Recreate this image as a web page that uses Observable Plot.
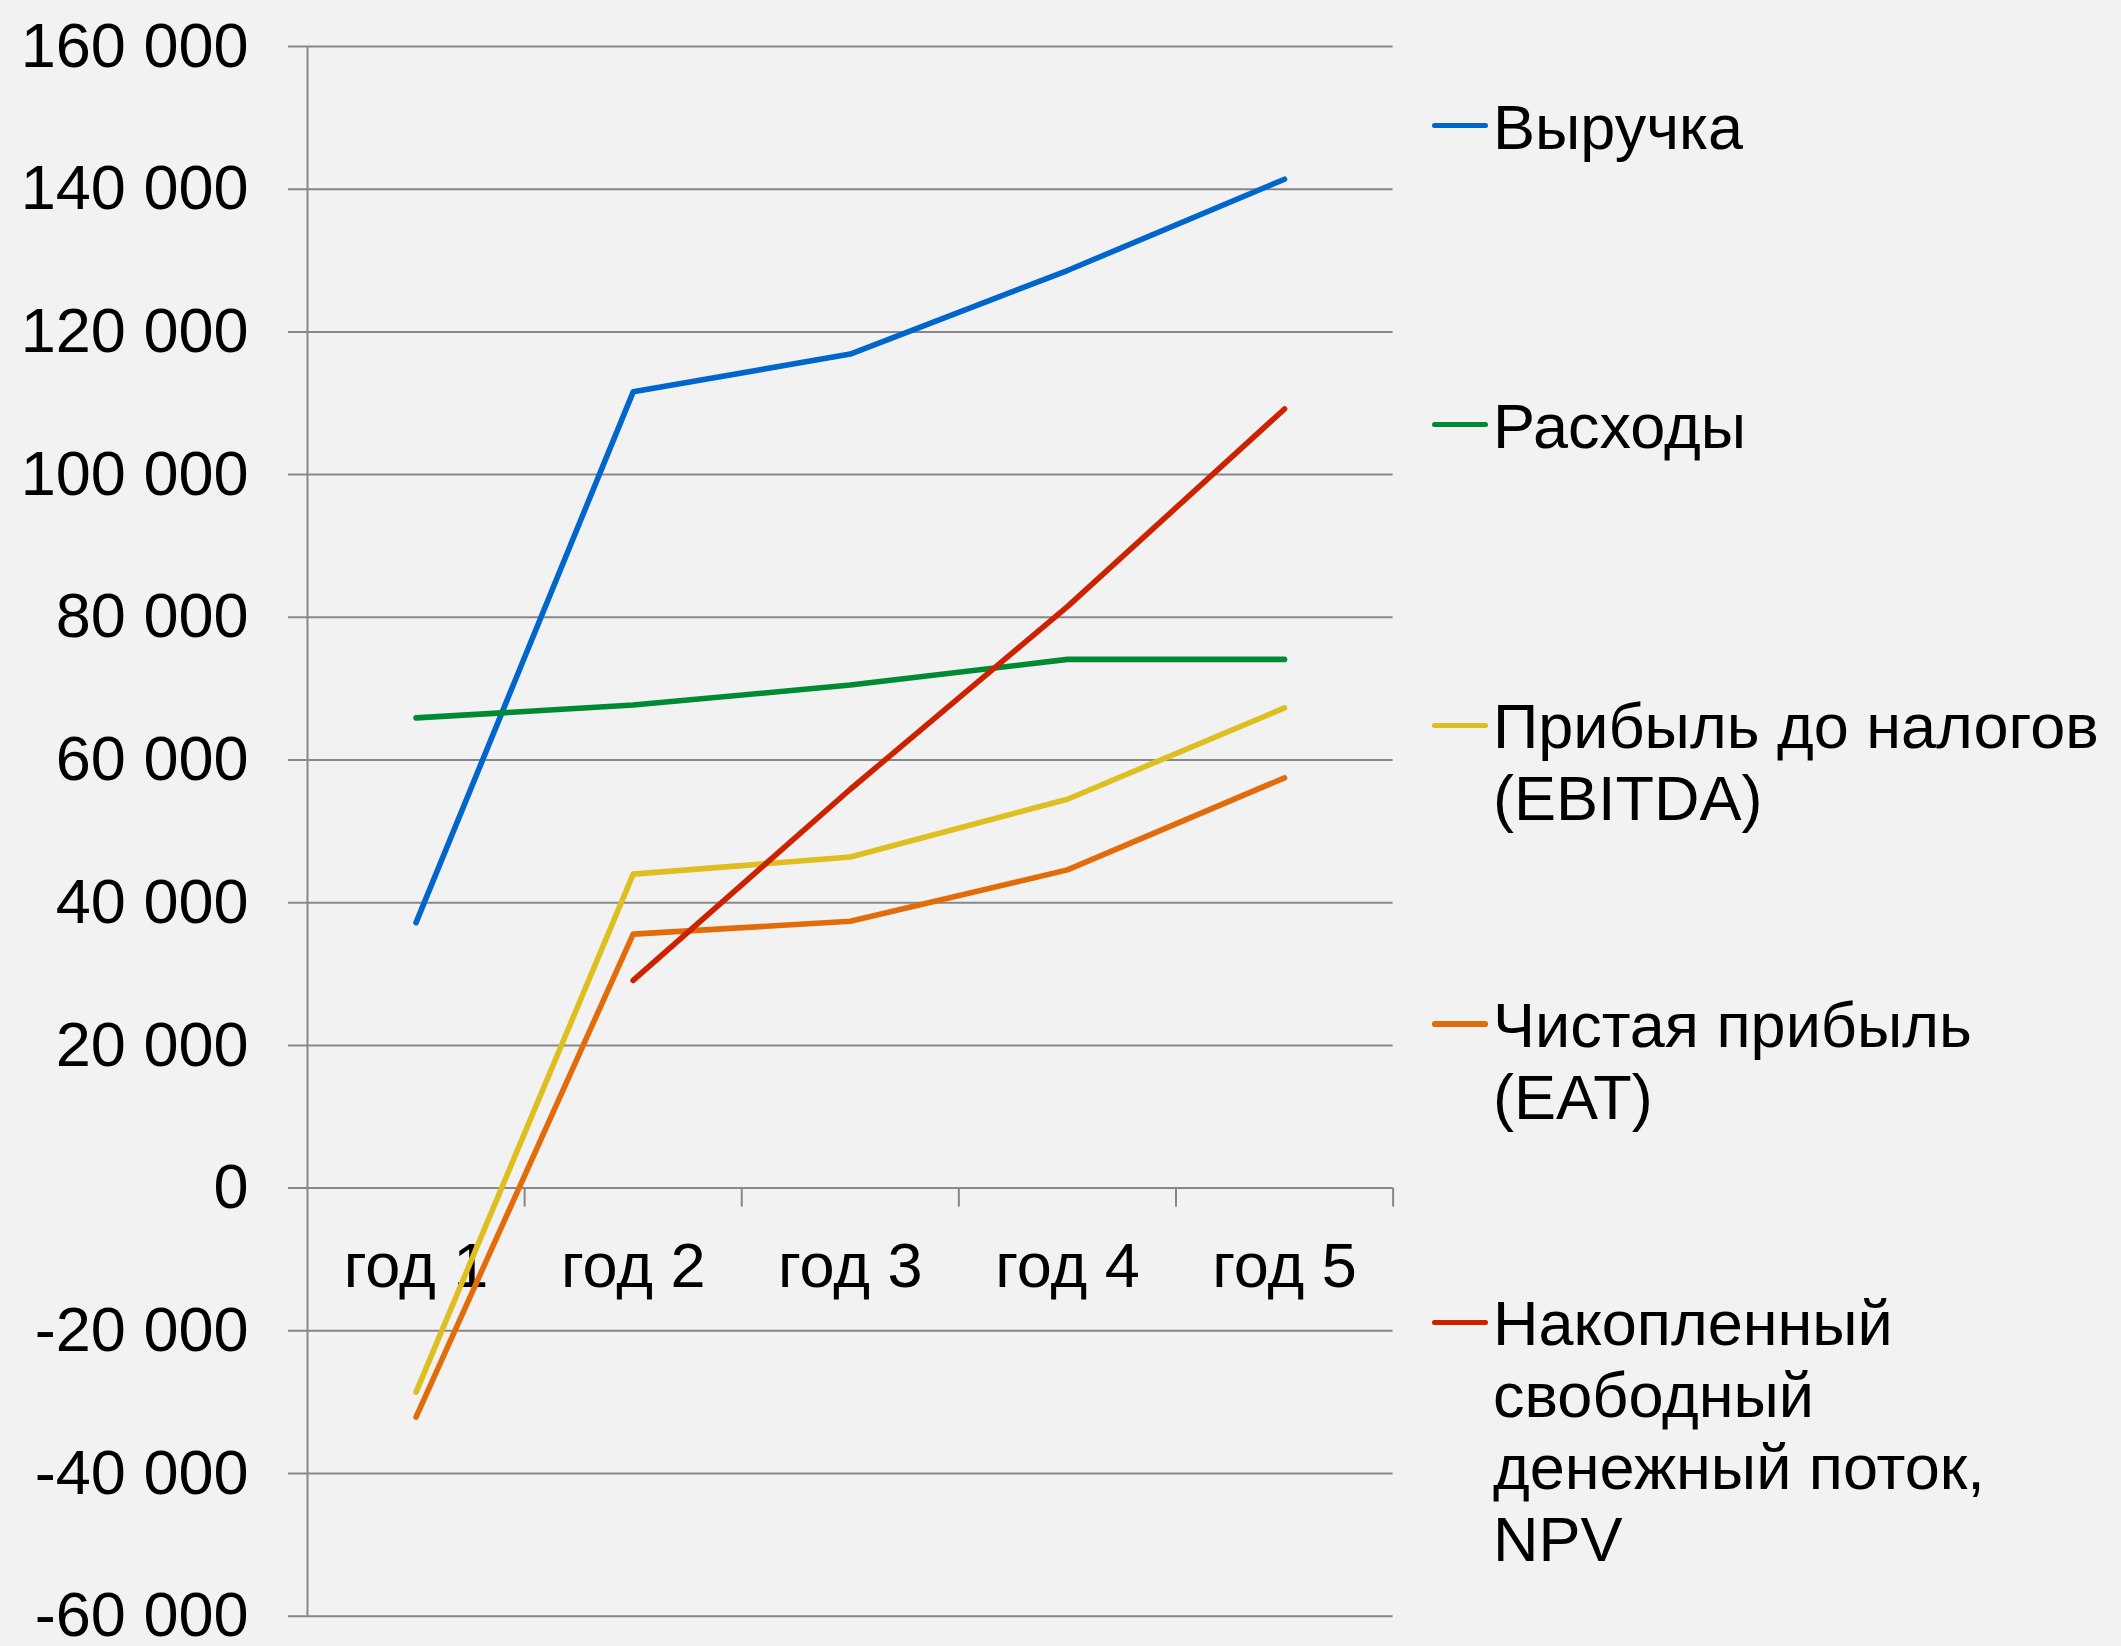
<!DOCTYPE html>
<html>
<head>
<meta charset="utf-8">
<script src="https://cdn.jsdelivr.net/npm/d3@7"></script>
<script src="https://cdn.jsdelivr.net/npm/@observablehq/plot@0.6"></script>
<style>
html, body { margin: 0; padding: 0; background: #f2f2f2; }
#wrap { position: relative; width: 2121px; height: 1646px; background: #f2f2f2;
  font-family: "Liberation Sans", Arial, sans-serif; }
#chart { position: absolute; left: 0; top: 0; }
.leg { position: absolute; left: 1493px; font-size: 63px; line-height: 72px; color: #000;
  white-space: pre; }
.sw { position: absolute; left: -61px; top: 32.4px; width: 56px; height: 5.6px; border-radius: 2.8px; }
</style>
</head>
<body>
<div id="wrap"><div id="chart"></div></div>
<script>
// ---- data ----
const categories = ["год 1", "год 2", "год 3", "год 4", "год 5"];
const seriesNames = [
  "Выручка",
  "Расходы",
  "Прибыль до налогов\n(EBITDA)",
  "Чистая прибыль\n(EAT)",
  "Накопленный\nсвободный\nденежный поток,\nNPV"
];
const seriesColors = ["#0066CC", "#008A32", "#DEBF1F", "#E36C0A", "#CC2200"];
const revenue  = [37200, 111600, 116900, 128600, 141400];
const expenses = [65900, 67700, 70500, 74100, 74100];
const ebitda   = [-28600, 44000, 46400, 54500, 67300];
const eat      = [-32100, 35600, 37400, 44600, 57500];
const npv      = [null, 29100, 55900, 81500, 109200];
const yTicks   = [-60000, -40000, -20000, 0, 20000, 40000, 60000, 80000, 100000, 120000, 140000, 160000];

const seriesValues = [revenue, expenses, ebitda, eat, npv];

// ---- chart ----
const ru = d3.formatLocale({decimal: ",", thousands: " ", grouping: [3], currency: ["", " ₽"], minus: "-"});
const fmt = ru.format(",d");
const gridColor = "#878787";

const xDomain = [0.5, categories.length + 0.5];
const boundaries = categories.map((c, i) => i + 1.5);

const lineMarks = seriesValues.map((vals, s) => {
  const rows = vals.map((v, i) => ({i: i + 1, v})).filter(d => d.v != null);
  return Plot.line(rows, {
    x: "i", y: "v", stroke: seriesColors[s], strokeWidth: 5.6,
    strokeLinecap: "round", strokeLinejoin: "round"
  });
});

const chart = Plot.plot({
  width: 1420,
  height: 1646,
  marginLeft: 307,
  marginRight: 27.4,
  marginTop: 46,
  marginBottom: 30.3,
  style: {
    background: "#f2f2f2",
    fontFamily: "'Liberation Sans', Arial, sans-serif",
    fontSize: "63px",
    color: "#000",
    overflow: "visible"
  },
  x: {type: "linear", domain: xDomain, axis: null},
  y: {domain: [yTicks[0], yTicks[yTicks.length - 1]], ticks: yTicks, tickSize: 0,
      tickPadding: 59, tickFormat: fmt, label: null},
  marks: [
    Plot.ruleY(yTicks, {stroke: gridColor, strokeWidth: 2, insetLeft: -19}),
    Plot.ruleX([xDomain[0]], {stroke: gridColor, strokeWidth: 2}),
    Plot.ruleX(boundaries, {y1: () => 0, y2: () => 0, insetBottom: -19, stroke: gridColor, strokeWidth: 2}),
    Plot.text(categories, {x: (d, i) => i + 1, y: () => 0, text: d => d, dy: 99,
      lineAnchor: "bottom", textAnchor: "middle", fontSize: 63, fill: "#000"}),
    ...lineMarks
  ]
});
document.getElementById("chart").appendChild(chart);

// ---- legend (HTML, right of the plot) ----
const legendTops = [90.5, 389.5, 690.2, 989, 1287.2];
const wrap = document.getElementById("wrap");
seriesNames.forEach((name, s) => {
  const item = document.createElement("div");
  item.className = "leg";
  item.style.top = legendTops[s] + "px";
  const sw = document.createElement("div");
  sw.className = "sw";
  sw.style.background = seriesColors[s];
  item.appendChild(sw);
  item.appendChild(document.createTextNode(name));
  wrap.appendChild(item);
});
</script>
</body>
</html>
